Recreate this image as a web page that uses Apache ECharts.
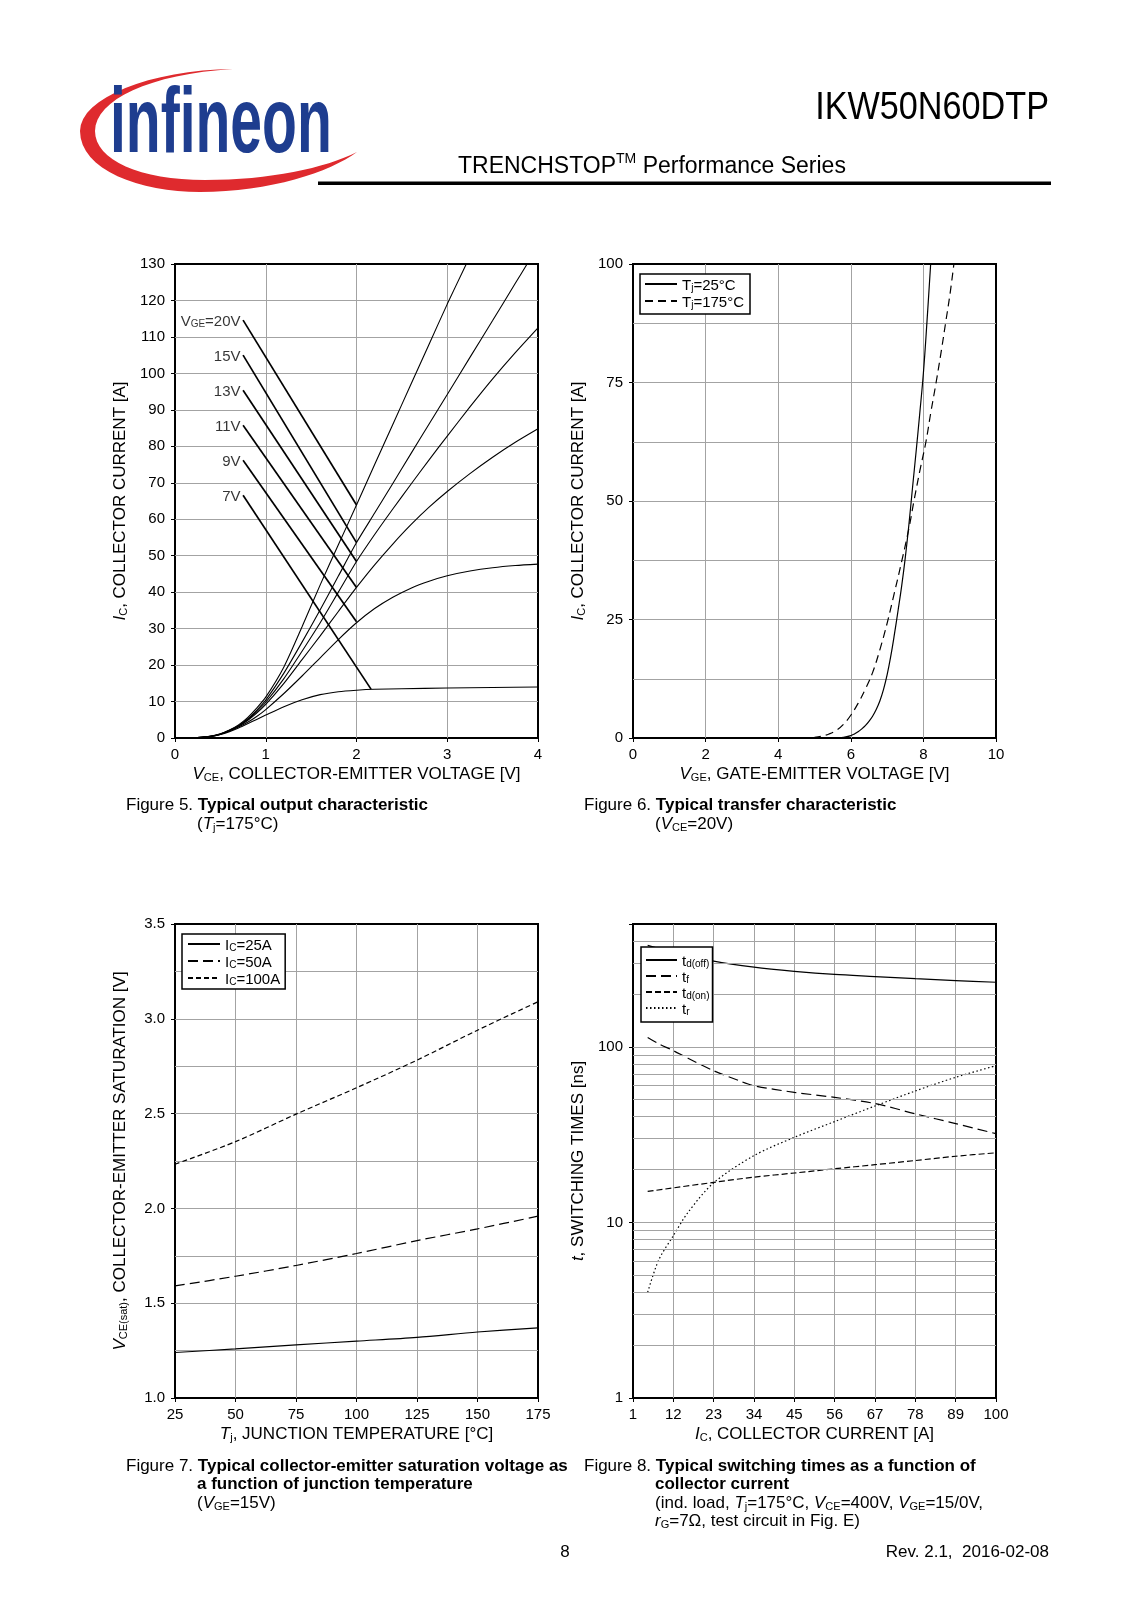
<!DOCTYPE html>
<html><head><meta charset="utf-8">
<script src="https://cdn.jsdelivr.net/npm/echarts@6/dist/echarts.min.js"></script>
<style>html,body{margin:0;padding:0;background:#fff}#c{width:1132px;height:1600px}</style>
</head><body><div id="c"></div>
<script>
const FF = 'Liberation Sans, Arial, Helvetica, sans-serif';
const GRID_COLOR = '#a3a3a3';

// ---------- Figure 5: output characteristic (VCE [V], IC [A]) ----------
const fig5Curve20V = [[0,0],[0.2,0.05],[0.4,0.55],[0.5,1.15],[0.6,2.2],[0.7,3.6],[0.8,5.6],[0.9,8.2],[1.0,11.2],[1.2,19.5],[1.4,30.5],[1.6,42],[1.8,53],[2.0,63.9],[2.2,75],[2.4,86],[2.6,97],[2.8,108],[3.0,119],[3.21,130]];
const fig5Curve15V = [[0,0],[0.2,0.05],[0.4,0.5],[0.5,1.1],[0.6,2.1],[0.7,3.4],[0.8,5.2],[0.9,7.6],[1.0,10.4],[1.2,17.8],[1.4,26.3],[1.6,35.2],[1.8,44.4],[2.0,53.6],[2.2,61.7],[2.4,69.8],[2.6,78],[2.8,86.1],[3.0,94.2],[3.25,104.4],[3.5,114.5],[3.75,124.7],[3.88,130]];
const fig5Curve13V = [[0,0],[0.2,0.05],[0.4,0.5],[0.5,1.05],[0.6,2.05],[0.7,3.3],[0.8,5.0],[0.9,7.2],[1.0,9.8],[1.2,16.3],[1.4,23.8],[1.6,31.6],[1.8,40.0],[2.0,48.4],[2.2,55.8],[2.4,62.8],[2.6,69.6],[2.8,76.3],[3.0,82.8],[3.25,90.8],[3.5,98.5],[3.75,105.7],[4.0,112.5]];
const fig5Curve11V = [[0,0],[0.2,0.05],[0.4,0.5],[0.5,1.05],[0.6,2.0],[0.7,3.2],[0.8,4.8],[0.9,6.8],[1.0,9.2],[1.2,15.0],[1.4,21.5],[1.6,28.0],[1.8,34.7],[2.0,41.3],[2.2,47.5],[2.4,53.2],[2.6,58.5],[2.8,63.3],[3.0,67.6],[3.25,72.5],[3.5,77.0],[3.75,81.1],[4.0,84.8]];
const fig5Curve9V = [[0,0],[0.2,0.05],[0.4,0.5],[0.5,1.0],[0.6,1.9],[0.7,3.0],[0.8,4.3],[0.9,5.9],[1.0,7.8],[1.2,12.2],[1.4,17.0],[1.6,22.0],[1.8,27.0],[2.0,31.6],[2.2,35.5],[2.4,38.6],[2.6,41.1],[2.8,43.0],[3.0,44.5],[3.25,45.8],[3.5,46.7],[3.75,47.3],[4.0,47.7]];
const fig5Curve7V = [[0,0],[0.2,0.05],[0.4,0.45],[0.5,0.95],[0.6,1.75],[0.7,2.75],[0.8,3.9],[0.9,5.1],[1.0,6.3],[1.2,8.6],[1.4,10.5],[1.6,11.9],[1.8,12.7],[2.0,13.1],[2.2,13.35],[2.5,13.5],[3.0,13.7],[3.5,13.85],[4.0,14.0]];
const fig5Curves = [fig5Curve20V, fig5Curve15V, fig5Curve13V, fig5Curve11V, fig5Curve9V, fig5Curve7V];
const fig5Labels = ['{n|V}{s|GE}{n|=20V}', '{n|15V}', '{n|13V}', '{n|11V}', '{n|9V}', '{n|7V}'];
const fig5LeaderStart = [[0.75,114.6],[0.75,105.0],[0.75,95.4],[0.75,85.8],[0.75,76.2],[0.75,66.6]];
const fig5LeaderEnd = [[2.0,63.9],[2.0,53.6],[2.0,48.4],[2.0,41.3],[2.0,31.9],[2.16,13.4]];

// ---------- Figure 6: transfer characteristic (VGE [V], IC [A]) ----------
const fig6Tj25 = [[4.5,0],[5.4,0],[5.6,0.03],[5.8,0.12],[6.0,0.5],[6.1,0.85],[6.2,1.3],[6.3,1.9],[6.4,2.6],[6.5,3.5],[6.6,4.6],[6.7,6.0],[6.8,7.8],[6.9,10.2],[7.0,13.3],[7.1,17.2],[7.2,21.8],[7.3,26.8],[7.4,32],[7.5,38],[7.6,45],[7.7,52.8],[7.8,60.5],[7.9,68.5],[8.0,77],[8.1,88],[8.2,100]];
const fig6Tj175 = [[4.6,0],[4.8,0.03],[5.0,0.15],[5.2,0.4],[5.4,0.85],[5.6,1.6],[5.8,2.9],[6.0,4.8],[6.2,7.3],[6.4,10.3],[6.6,13.8],[6.8,18.6],[7.0,24.2],[7.2,30.6],[7.4,37.2],[7.6,44.2],[7.74,50],[7.9,56.3],[8.07,62.5],[8.2,68.5],[8.35,75],[8.5,82],[8.61,87.5],[8.73,93.5],[8.84,100]];

// ---------- Figure 7: VCE(sat) vs Tj ----------
const fig7Tj = [25,50,75,100,125,150,175];
const fig7Ic25 = [1.24,1.259,1.28,1.30,1.32,1.348,1.37];
const fig7Ic50 = [1.591,1.642,1.699,1.762,1.83,1.892,1.959];
const fig7Ic100 = [2.233,2.352,2.497,2.636,2.782,2.94,3.09];

// ---------- Figure 8: switching times vs IC ----------
const fig8IcToff = [5,12,23,34,45,56,67,78,89,100];
const fig8Toff = [378,345,307,284,269,258,251,244,238,233];
const fig8IcTf = [5,8,12,16,23,30,34,45,56,67,78,89,100];
const fig8Tf = [113,104,95,86,73,64,60,55,51.5,47.5,41.5,36.5,32];
const fig8IcTon = [5,23,34,45,56,67,78,89,100];
const fig8Ton = [15.0,16.9,18.1,19.1,20.2,21.3,22.5,23.8,24.9];
const fig8IcTr = [5,8,12,16,23,34,45,56,67,78,89,100];
const fig8Tr = [4.0,6.1,8.4,11.4,16.8,24.0,30.5,37.5,46,56,67,78];
const fig8MinorGrid = [2,3,4,5,6,7,8,9,20,30,40,50,60,70,80,90,200,300,400];

// ---------- helpers ----------
function R(f) {
  const base = {fontFamily: FF, fontSize: f, lineHeight: f + 3, verticalAlign: 'bottom', color: '#000'};
  return {
    n: base,
    i: Object.assign({}, base, {fontStyle: 'italic'}),
    b: Object.assign({}, base, {fontWeight: 'bold'}),
    s: {fontFamily: FF, fontSize: Math.round(f * 0.66), lineHeight: 8, verticalAlign: 'bottom', color: '#000'},
    t: {fontFamily: FF, fontSize: Math.round(f * 0.6), lineHeight: 12, verticalAlign: 'top', color: '#000'}
  };
}
function RZ(f) {
  const r = R(f), o = {};
  Object.keys(r).forEach(k => { const c = Object.assign({}, r[k]); c.fill = c.color; delete c.color; o[k] = c; });
  return o;
}
function pairs(xs, ys) { return xs.map((x, i) => [x, ys[i]]); }

function xAx(grid, min, max, interval, name, extra) {
  return Object.assign({
    type: 'value', gridIndex: grid, min: min, max: max, interval: interval,
    axisLine: {show: false},
    axisTick: {show: true, inside: false, length: 4, lineStyle: {color: '#000', width: 1}},
    axisLabel: {color: '#000', fontFamily: FF, fontSize: 15, margin: 9},
    splitLine: {show: true, showMinLine: false, showMaxLine: false, lineStyle: {color: GRID_COLOR, width: 1}},
    name: name, nameLocation: 'middle', nameGap: 25,
    nameTextStyle: {fontFamily: FF, fontSize: 17, color: '#000', rich: R(17)}
  }, extra || {});
}
function yAx(grid, min, max, interval, name, extra) {
  const o = Object.assign({
    type: 'value', gridIndex: grid, min: min, max: max,
    axisLine: {show: false},
    axisTick: {show: true, inside: false, length: 4, lineStyle: {color: '#000', width: 1}},
    axisLabel: {color: '#000', fontFamily: FF, fontSize: 15, margin: 10},
    splitLine: {show: true, showMinLine: false, showMaxLine: false, lineStyle: {color: GRID_COLOR, width: 1}},
    name: name, nameLocation: 'middle', nameGap: 46,
    nameTextStyle: {fontFamily: FF, fontSize: 17, color: '#000', rich: R(17)}
  }, extra || {});
  if (interval) o.interval = interval;
  return o;
}
function lineS(name, grid, data, lineStyleExtra, smooth) {
  return {
    type: 'line', name: name, xAxisIndex: grid, yAxisIndex: grid, data: data,
    symbol: 'none', smooth: smooth === undefined ? 0.3 : smooth, silent: true, z: 3,
    lineStyle: Object.assign({color: '#000', width: 1.2}, lineStyleExtra || {}),
    itemStyle: {color: '#000'}
  };
}
function legendBox(left, top, names, fmt, pad, itemGap, itemWidth) {
  return {
    show: true, orient: 'vertical', left: left, top: top, data: names,
    itemWidth: itemWidth, itemHeight: 10, itemGap: itemGap, padding: pad,
    borderColor: '#000', borderWidth: 1.5, borderRadius: 0, backgroundColor: '#fff',
    selectedMode: false, z: 10,
    itemStyle: {opacity: 0, borderWidth: 0},
    formatter: n => fmt[n],
    textStyle: {fontFamily: FF, fontSize: 15, color: '#000', rich: R(15)}
  };
}
// sample cubic bezier outline for the logo swoosh (decoration, not data)
function bezierPoly(segs) {
  const pts = [];
  segs.forEach(s => {
    for (let k = 0; k <= 16; k++) {
      const t = k / 16, u = 1 - t;
      pts.push([
        u*u*u*s[0] + 3*u*u*t*s[2] + 3*u*t*t*s[4] + t*t*t*s[6],
        u*u*u*s[1] + 3*u*u*t*s[3] + 3*u*t*t*s[5] + t*t*t*s[7]
      ]);
    }
  });
  return pts;
}
const swooshSegs = [
  [233,69, 150,70, 80,98, 80,131],
  [80,131, 80,170, 140,192, 200,192],
  [200,192, 270,192, 330,172, 357,152],
  [357,152, 325,168, 270,180, 205,180],
  [205,180, 140,180, 95,160, 95,131],
  [95,131, 95,100, 150,74, 233,69]
];

const grids = [
  {left: 175, top: 264, width: 363, height: 474},
  {left: 633, top: 264, width: 363, height: 474},
  {left: 175, top: 924, width: 363, height: 474},
  {left: 633, top: 924, width: 363, height: 474}
].map(g => Object.assign(g, {show: true, borderColor: '#000', borderWidth: 2, backgroundColor: 'transparent', containLabel: false}));

const xAxes = [
  xAx(0, 0, 4, 1, '{i|V}{s|CE}{n|, COLLECTOR-EMITTER VOLTAGE [V]}'),
  xAx(1, 0, 10, 2, '{i|V}{s|GE}{n|, GATE-EMITTER VOLTAGE [V]}'),
  xAx(2, 25, 175, 25, '{i|T}{s|j}{n|, JUNCTION TEMPERATURE [°C]}'),
  xAx(3, 1, 100, 11, '{i|I}{s|C}{n|, COLLECTOR CURRENT [A]}')
];
const yAxes = [
  yAx(0, 0, 130, 10, '{i|I}{s|C}{n|, COLLECTOR CURRENT [A]}'),
  yAx(1, 0, 100, 25, '{i|I}{s|C}{n|, COLLECTOR CURRENT [A]}', {
    minorTick: {show: false, splitNumber: 2},
    minorSplitLine: {show: true, lineStyle: {color: GRID_COLOR, width: 1}}
  }),
  yAx(2, 1.0, 3.5, 0.5, '{i|V}{s|CE(sat)}{n|, COLLECTOR-EMITTER SATURATION [V]}', {
    minorTick: {show: false, splitNumber: 2},
    minorSplitLine: {show: true, lineStyle: {color: GRID_COLOR, width: 1}}
  }),
  yAx(3, 1, 500, 0, '{i|t}{n|, SWITCHING TIMES [ns]}', {type: 'log', logBase: 10})
];
yAxes[2].axisLabel = Object.assign({}, yAxes[2].axisLabel, {formatter: v => v.toFixed(1)});
yAxes[3].axisLabel = Object.assign({}, yAxes[3].axisLabel, {formatter: v => { const l = Math.log10(v); return (Math.abs(l - Math.round(l)) < 1e-6 && v < 400) ? String(Math.round(v)) : ''; }});

const series = [];
// Fig 5
fig5Curves.forEach((c, i) => series.push(lineS('f5c' + i, 0, c, {width: 1.1}, 0.25)));
fig5LeaderStart.forEach((p, i) => series.push(lineS('f5l' + i, 0, [p, fig5LeaderEnd[i]], {width: 1.7}, false)));
series.push({
  type: 'scatter', xAxisIndex: 0, yAxisIndex: 0, silent: true, symbolSize: 1,
  itemStyle: {color: 'rgba(0,0,0,0)'},
  data: fig5LeaderStart.map((p, i) => ({value: p, label: {formatter: fig5Labels[i]}})),
  label: {show: true, position: 'left', distance: 2, color: '#000', fontFamily: FF, fontSize: 15, rich: R(15)}
});
// Fig 6
series.push(lineS('Tj=25°C', 1, fig6Tj25, {}, 0.4));
series.push(lineS('Tj=175°C', 1, fig6Tj175, {type: [8, 5]}, 0.4));
// Fig 7
series.push(lineS('IC=25A', 2, pairs(fig7Tj, fig7Ic25)));
series.push(lineS('IC=50A', 2, pairs(fig7Tj, fig7Ic50), {type: [10, 5]}));
series.push(lineS('IC=100A', 2, pairs(fig7Tj, fig7Ic100), {type: [5, 3]}));
// Fig 8
series.push({
  type: 'line', name: 'f8grid', xAxisIndex: 3, yAxisIndex: 3, data: [[1, 1]], symbol: 'none', silent: true, z: 1,
  lineStyle: {width: 0},
  markLine: {silent: true, symbol: ['none', 'none'], label: {show: false}, animation: false,
    lineStyle: {color: GRID_COLOR, width: 1, type: 'solid'},
    data: fig8MinorGrid.map(v => ({yAxis: v}))}
});
series.push(lineS('td(off)', 3, pairs(fig8IcToff, fig8Toff)));
series.push(lineS('tf', 3, pairs(fig8IcTf, fig8Tf), {type: [10, 5]}));
series.push(lineS('td(on)', 3, pairs(fig8IcTon, fig8Ton), {type: [6, 3]}));
series.push(lineS('tr', 3, pairs(fig8IcTr, fig8Tr), {type: [1.5, 2.5]}));

const legends = [
  legendBox(640, 274, ['Tj=25°C', 'Tj=175°C'], {'Tj=25°C': '{n|T}{s|j}{n|=25°C}', 'Tj=175°C': '{n|T}{s|j}{n|=175°C}'}, [4, 6, 4, 4], 2, 32),
  legendBox(182, 934, ['IC=25A', 'IC=50A', 'IC=100A'], {'IC=25A': '{n|I}{s|C}{n|=25A}', 'IC=50A': '{n|I}{s|C}{n|=50A}', 'IC=100A': '{n|I}{s|C}{n|=100A}'}, [4, 5, 2, 5], 2, 32),
  legendBox(641, 947, ['td(off)', 'tf', 'td(on)', 'tr'], {'td(off)': '{n|t}{s|d(off)}', 'tf': '{n|t}{s|f}', 'td(on)': '{n|t}{s|d(on)}', 'tr': '{n|t}{s|r}'}, [7, 3, 5, 4], 1, 31)
];

function txt(x, y, text, f, align) {
  return {type: 'text', x: x, y: y, silent: true,
    style: {text: text, fontFamily: FF, fontSize: f, fill: '#000', align: align || 'left', verticalAlign: 'middle', rich: RZ(f)}};
}
const graphics = [
  {type: 'polygon', silent: true, shape: {points: bezierPoly(swooshSegs)}, style: {fill: '#df2a2e'}},
  {type: 'text', x: 110, y: 127, scaleX: 0.62, silent: true, style: {text: 'infineon', fontFamily: FF, fontSize: 92, fontWeight: 'bold', fill: '#1e3d8f', align: 'left', verticalAlign: 'middle'}},
  {type: 'text', x: 1049, y: 109, scaleX: 0.9, silent: true, style: {text: 'IKW50N60DTP', fontFamily: FF, fontSize: 38, fill: '#000', align: 'right', verticalAlign: 'middle'}},
  txt(458, 165, '{n|TRENCHSTOP}{t|TM}{n| Performance Series}', 23),
  {type: 'rect', silent: true, shape: {x: 318, y: 181.5, width: 733, height: 3.5}, style: {fill: '#000'}},
  txt(126, 804, '{n|Figure 5. }{b|Typical output characteristic}', 17),
  txt(197, 823, '{n|(}{i|T}{s|j}{n|=175°C)}', 17),
  txt(584, 804, '{n|Figure 6. }{b|Typical transfer characteristic}', 17),
  txt(655, 823, '{n|(}{i|V}{s|CE}{n|=20V)}', 17),
  txt(126, 1465, '{n|Figure 7. }{b|Typical collector-emitter saturation voltage as}', 17),
  txt(197, 1483, '{b|a function of junction temperature}', 17),
  txt(197, 1502, '{n|(}{i|V}{s|GE}{n|=15V)}', 17),
  txt(584, 1465, '{n|Figure 8. }{b|Typical switching times as a function of}', 17),
  txt(655, 1483, '{b|collector current}', 17),
  txt(655, 1502, '{n|(ind. load, }{i|T}{s|j}{n|=175°C, }{i|V}{s|CE}{n|=400V, }{i|V}{s|GE}{n|=15/0V,}', 17),
  txt(655, 1520, '{i|r}{s|G}{n|=7Ω, test circuit in Fig. E)}', 17),
  txt(565, 1551, '{n|8}', 17, 'center'),
  txt(1049, 1551, '{n|Rev. 2.1,  2016-02-08}', 17, 'right')
];

const chart = echarts.init(document.getElementById('c'), null, {renderer: 'canvas', width: 1132, height: 1600});
chart.setOption({
  animation: false,
  backgroundColor: '#fff',
  textStyle: {fontFamily: FF},
  grid: grids,
  xAxis: xAxes,
  yAxis: yAxes,
  legend: legends,
  series: series,
  graphic: {elements: graphics}
});
</script></body></html>
